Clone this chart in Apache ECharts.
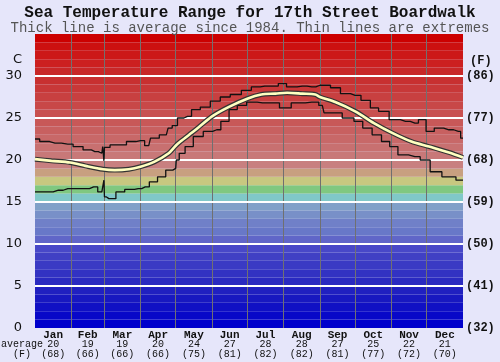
<!DOCTYPE html>
<html>
<head>
<meta charset="utf-8">
<script src="https://cdn.jsdelivr.net/npm/echarts@6/dist/echarts.min.js"></script>
<style>
html,body{margin:0;padding:0;background:#e6e6fa;}
#chart{width:500px;height:362px;}
</style>
</head>
<body>
<div id="chart"></div>
<script>
// ---- data ----
const months = ['Jan','Feb','Mar','Apr','May','Jun','Jul','Aug','Sep','Oct','Nov','Dec'];
const monthAvgC = [20,19,19,20,24,27,28,28,27,25,22,21];
const monthAvgF = ['(68)','(66)','(66)','(66)','(75)','(81)','(82)','(82)','(81)','(77)','(72)','(70)'];
const monthStarts = [31,59,90,120,151,181,212,243,273,304,334];
const monthMids = [15.5,45,74.5,105,135.5,166,196.5,227.5,258,288.5,319,349.5];
const cTicks = [0,5,10,15,20,25,30];
const fTicks = ['(32)','(41)','(50)','(59)','(68)','(77)','(86)'];

const avgLine = [[0,20.1],[14,19.9],[30,19.7],[43,19.3],[58,18.9],[68,18.8],[80,18.9],[90,19.2],[102,19.8],[114,20.8],[120,21.7],[124,22.2],[137,23.6],[151,25.2],[165,26.3],[181,27.3],[193,27.8],[205,27.9],[215,28.0],[228,27.9],[239,27.8],[243,27.5],[256,26.9],[273,25.8],[289,24.4],[305,23.2],[321,22.2],[336,21.6],[353,20.9],[365,20.3]];

const maxLine = [[0,22.5],[8,22.2],[17,22.0],[28,21.9],[37,21.6],[45,21.2],[51,21.0],[57,20.8],[58.5,21.6],[59,19.9],[59.5,21.5],[61,21.5],[67,21.8],[74,21.8],[82,22.2],[90,22.3],[97,21.7],[100,22.6],[112,23.0],[115,23.8],[119,24.1],[124,25.0],[130,25.2],[137,26.0],[145,26.3],[154,27.0],[162,27.5],[171,27.8],[181,28.3],[188,28.7],[196,28.8],[205,28.8],[210,29.1],[219,28.7],[228,28.8],[236,28.7],[243,28.9],[248,28.9],[256,28.6],[265,27.9],[273,27.7],[283,27.1],[289,26.2],[297,25.8],[307,24.8],[316,24.6],[324,24.4],[330,24.8],[337,23.4],[344,23.8],[353,23.6],[361,23.4],[365,22.6]];

const minLine = [[0,16.2],[11,16.2],[20,16.4],[28,16.6],[43,16.6],[50,16.8],[57,16.2],[58.5,16.2],[59,17.6],[59.5,15.6],[61,15.6],[63,15.4],[67,15.4],[71,16.2],[82,16.5],[88,16.6],[94,16.8],[101,17.4],[108,18.0],[115,18.8],[120,19.0],[121,20.0],[125,20.8],[131,21.6],[139,22.8],[148,23.4],[155,23.6],[162,24.6],[169,26.0],[176,26.5],[185,26.9],[194,26.8],[205,26.8],[212,26.2],[225,26.8],[236,26.9],[239,26.9],[245,26.5],[248,25.6],[256,25.6],[268,25.0],[276,24.6],[283,23.8],[292,23.0],[299,22.2],[306,21.6],[313,20.6],[324,20.4],[333,20.0],[341,18.6],[353,18.0],[365,17.6]];

// ---- styling (band colours from 0C upward, one per degree) ----
const bandColors = ['#0000cc','#0808c8','#1010c4','#1818c0','#2020c0','#2a2ac0','#3232c2','#3a3ac4','#4040c4','#4848c8',
  '#6066c8','#6878c8','#7080c8','#7890c8','#80a0c8','#80c8c8','#80c880','#c8c880','#c8a080','#c88080',
  '#c87878','#c87070','#c86868','#c86060','#c85858','#c85050','#c84848','#c84040','#c83838','#c83030',
  '#c82828','#cc2020','#cc1818','#cc1010','#cc0000'];

const mono = 'Liberation Mono';
const chart = echarts.init(document.getElementById('chart'));

const bands = bandColors.map((c,i)=>[{yAxis:i,itemStyle:{color:c}},{yAxis:i+1}]);
const hLines = cTicks.filter(v=>v>0).map(v=>({yAxis:v,lineStyle:{color:'#ffffff',width:2,type:'solid'}}));
const vLines = monthStarts.map(d=>({xAxis:d,lineStyle:{color:'#707070',width:1,type:'solid'}}));

chart.setOption({
  animation:false,
  backgroundColor:'#e6e6fa',
  title:{
    text:'Sea Temperature Range for 17th Street Boardwalk',
    subtext:'Thick line is average since 1984. Thin lines are extremes',
    left:'center', top:4, itemGap:0, padding:0,
    textStyle:{fontFamily:mono,fontWeight:'bold',fontSize:16,lineHeight:17,color:'#111'},
    subtextStyle:{fontFamily:mono,fontSize:14,lineHeight:14,color:'#555'}
  },
  grid:{left:35,right:37,top:34,bottom:34},
  xAxis:{
    type:'value',min:0,max:365,
    axisLine:{show:false},axisTick:{show:false},splitLine:{show:false},
    axisLabel:{
      customValues:monthMids, margin:2, interval:0,
      formatter:function(v){
        const i = monthMids.indexOf(v);
        if(i<0) return '';
        return '{m|'+months[i]+'}\n{v|'+monthAvgC[i]+'}\n{v|'+monthAvgF[i]+'}';
      },
      rich:{
        m:{fontFamily:mono,fontWeight:'bold',fontSize:11,lineHeight:10,color:'#111'},
        v:{fontFamily:mono,fontSize:10,lineHeight:9.5,color:'#111'}
      }
    }
  },
  yAxis:[
    {type:'value',min:0,max:35,interval:5,
     axisLine:{show:false},axisTick:{show:false},splitLine:{show:false},
     axisLabel:{margin:13,fontFamily:'DejaVu Sans',fontSize:13,color:'#111',
       formatter:v=>cTicks.indexOf(v)>=0?String(v):''}},
    {type:'value',min:0,max:35,interval:5,position:'right',
     axisLine:{show:false},axisTick:{show:false},splitLine:{show:false},
     axisLabel:{margin:3,fontFamily:mono,fontWeight:'bold',fontSize:12,color:'#111',
       formatter:v=>{const i=cTicks.indexOf(v);return i>=0?fTicks[i]:'';}}}
  ],
  graphic:[
    {type:'text',left:13,top:53,style:{text:'C',fontFamily:'DejaVu Sans',fontSize:13,fill:'#111'}},
    {type:'text',left:470,top:55,style:{text:'(F)',fontFamily:mono,fontWeight:'bold',fontSize:12,fill:'#111'}},
    {type:'text',left:1,top:339,style:{text:'average',fontFamily:mono,fontSize:10,fill:'#111'}},
    {type:'text',left:13,top:349,style:{text:'(F)',fontFamily:mono,fontSize:10,fill:'#111'}}
  ],
  series:[
    {type:'line',data:avgLine,z:1,silent:true,showSymbol:false,lineStyle:{opacity:0},
     markArea:{silent:true,data:bands},
     markLine:{silent:true,symbol:'none',label:{show:false},data:vLines.concat(hLines)}},
    {type:'line',data:maxLine,z:5,step:'middle',showSymbol:false,silent:true,
     lineStyle:{color:'#111',width:1.3}},
    {type:'line',data:minLine,z:5,step:'middle',showSymbol:false,silent:true,
     lineStyle:{color:'#111',width:1.3}},
    {type:'line',data:avgLine,z:6,smooth:0.3,showSymbol:false,silent:true,
     lineStyle:{color:'#333',width:5}},
    {type:'line',data:avgLine,z:7,smooth:0.3,showSymbol:false,silent:true,
     lineStyle:{color:'#ffffc0',width:2.6}}
  ]
});
</script>
</body>
</html>
